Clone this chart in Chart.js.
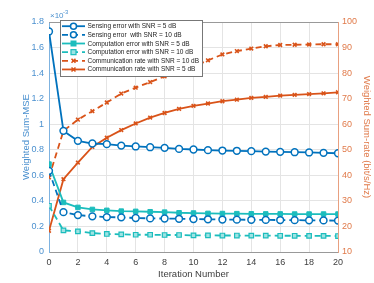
<!DOCTYPE html>
<html>
<head>
<meta charset="utf-8">
<script src="https://cdn.jsdelivr.net/npm/chart.js@4.4.0/dist/chart.umd.min.js"></script>
<style>
  html, body { margin: 0; padding: 0; background: #fff; }
  #wrap { width: 374px; height: 283px; }
</style>
</head>
<body>
<div id="wrap"><canvas id="chart" width="374" height="283"></canvas></div>
<script>
const iterations = [0,1,2,3,4,5,6,7,8,9,10,11,12,13,14,15,16,17,18,19,20];

// Weighted Sum-MSE (x 1e-3)
const sensing5 = [1.726,0.948,0.870,0.849,0.844,0.833,0.826,0.820,0.815,0.807,0.802,0.797,0.794,0.792,0.789,0.786,0.784,0.781,0.779,0.776,0.773];
const sensing10 = [0.635,0.312,0.289,0.279,0.273,0.271,0.266,0.263,0.262,0.260,0.258,0.256,0.254,0.253,0.252,0.251,0.250,0.249,0.248,0.247,0.246];
const comp5 = [0.688,0.388,0.349,0.333,0.326,0.320,0.318,0.315,0.312,0.307,0.305,0.302,0.301,0.300,0.299,0.298,0.298,0.297,0.297,0.297,0.297];
const comp10 = [0.362,0.169,0.161,0.148,0.141,0.138,0.135,0.135,0.133,0.133,0.130,0.130,0.129,0.129,0.128,0.128,0.127,0.127,0.126,0.126,0.125];

// Weighted Sum-rate (bit/s/Hz)
const rate10 = [39.2,57.4,61.8,65.1,68.5,72.0,74.3,76.5,78.7,80.8,82.6,85.0,87.3,88.6,89.6,90.5,91.0,91.1,91.2,91.3,91.3];
const rate5 = [18.3,38.5,45.0,51.1,54.7,57.7,60.3,62.6,64.4,66.0,67.2,68.1,69.0,69.6,70.3,70.7,71.2,71.5,71.8,72.1,72.5];

const labels = [
  "Sensing error with SNR = 5 dB",
  "Sensing error  with SNR = 10 dB",
  "Computation error with SNR = 5 dB",
  "Computation error with SNR = 10 dB",
  "Communication rate with SNR = 10 dB",
  "Communication rate with SNR = 5 dB"
];

const blue = "#0072BD";
const cyan = "#1CBDBD";
const orange = "#D95319";
const FONT = "'Liberation Sans', Arial, Helvetica, sans-serif";

function pts(arr) { return arr.map((v, i) => ({ x: iterations[i], y: v })); }

const datasets = [
  { label: labels[0], data: pts(sensing5), yAxisID: "y", borderColor: blue, backgroundColor: blue,
    pointStyle: "circle", pointRadius: 3.4, pointBackgroundColor: "#fff", pointBorderColor: blue, pointBorderWidth: 1.5, borderWidth: 1.8, borderDash: [] },
  { label: labels[1], data: pts(sensing10), yAxisID: "y", borderColor: blue, backgroundColor: blue,
    pointStyle: "circle", pointRadius: 3.4, pointBackgroundColor: "#fff", pointBorderColor: blue, pointBorderWidth: 1.5, borderWidth: 1.8, borderDash: [6, 4] },
  { label: labels[2], data: pts(comp5), yAxisID: "y", borderColor: cyan, backgroundColor: cyan,
    pointStyle: "rect", pointRadius: 3.2, pointBackgroundColor: cyan, pointBorderColor: cyan, pointBorderWidth: 1, borderWidth: 1.8, borderDash: [] },
  { label: labels[3], data: pts(comp10), yAxisID: "y", borderColor: cyan, backgroundColor: cyan,
    pointStyle: "rect", pointRadius: 3.2, pointBackgroundColor: "#9fe3e3", pointBorderColor: cyan, pointBorderWidth: 1.2, borderWidth: 1.8, borderDash: [6, 4] },
  { label: labels[4], data: pts(rate10), yAxisID: "y1", borderColor: orange, backgroundColor: orange,
    pointStyle: "crossRot", pointRadius: 2.6, pointBorderColor: orange, pointBorderWidth: 1.6, borderWidth: 1.8, borderDash: [6, 4] },
  { label: labels[5], data: pts(rate5), yAxisID: "y1", borderColor: orange, backgroundColor: orange,
    pointStyle: "crossRot", pointRadius: 2.6, pointBorderColor: orange, pointBorderWidth: 1.6, borderWidth: 1.8, borderDash: [] }
];

// legend box, exponent label and top frame line
const overlay = {
  id: "overlay",
  afterDatasetsDraw(chart) {
    const ctx = chart.ctx;
    const a = chart.chartArea;
    ctx.save();
    // top frame
    ctx.strokeStyle = "#999";
    ctx.lineWidth = 1;
    ctx.beginPath();
    ctx.moveTo(a.left, a.top + 0.5);
    ctx.lineTo(a.right, a.top + 0.5);
    ctx.stroke();

    // exponent
    ctx.fillStyle = "#4a90cf";
    ctx.font = "8px " + FONT;
    ctx.textBaseline = "alphabetic";
    ctx.fillText("\u00d710", a.left + 1, a.top - 4);
    ctx.font = "6px " + FONT;
    ctx.fillText("-3", a.left + 14, a.top - 8);

    // legend
    const bx = 60, by = 20, bw = 142, bh = 56;
    ctx.fillStyle = "#fff";
    ctx.fillRect(bx, by, bw, bh);
    ctx.strokeStyle = "#777";
    ctx.lineWidth = 1;
    ctx.strokeRect(bx + 0.5, by + 0.5, bw, bh);
    chart.data.datasets.forEach((ds, i) => {
      const yy = by + 6.2 + i * 8.65;
      ctx.strokeStyle = ds.borderColor;
      ctx.lineWidth = ds.borderWidth;
      ctx.setLineDash(ds.borderDash);
      ctx.beginPath();
      ctx.moveTo(62, yy);
      ctx.lineTo(85, yy);
      ctx.stroke();
      ctx.setLineDash([]);
      const mx = 73.5;
      ctx.lineWidth = ds.pointBorderWidth;
      ctx.strokeStyle = ds.pointBorderColor;
      if (ds.pointStyle === "circle") {
        ctx.fillStyle = ds.pointBackgroundColor;
        ctx.beginPath();
        ctx.arc(mx, yy, 3, 0, Math.PI * 2);
        ctx.fill();
        ctx.stroke();
      } else if (ds.pointStyle === "rect") {
        ctx.fillStyle = ds.pointBackgroundColor;
        ctx.fillRect(mx - 2.5, yy - 2.5, 5, 5);
        ctx.strokeRect(mx - 2.5, yy - 2.5, 5, 5);
      } else {
        ctx.beginPath();
        ctx.moveTo(mx - 2, yy - 2); ctx.lineTo(mx + 2, yy + 2);
        ctx.moveTo(mx + 2, yy - 2); ctx.lineTo(mx - 2, yy + 2);
        ctx.stroke();
      }
      // squeeze text a bit so it fits the box like the original
      ctx.save();
      ctx.translate(87.5, yy);
      ctx.scale(0.88, 1);
      ctx.fillStyle = "#222";
      ctx.font = "7.4px " + FONT;
      ctx.textBaseline = "middle";
      ctx.fillText(ds.label, 0, 0);
      ctx.restore();
    });
    ctx.restore();
  }
};

new Chart(document.getElementById("chart"), {
  type: "line",
  data: { datasets: datasets },
  options: {
    responsive: false,
    animation: false,
    devicePixelRatio: 1,
    layout: { padding: { top: 22, left: 0, right: 0, bottom: 0 } },
    plugins: {
      legend: { display: false },
      tooltip: { enabled: false }
    },
    scales: {
      x: {
        type: "linear",
        min: 0,
        max: 20,
        ticks: { stepSize: 2, color: "#404040", font: { size: 9, family: FONT }, padding: 5 },
        grid: { color: "#e4e4e4", drawTicks: false },
        border: { color: "#999" },
        title: { display: true, text: "Iteration Number", color: "#404040", font: { size: 9.5, family: FONT }, padding: { top: 0, bottom: 3 } },
        afterFit(scale) { scale.height = 31; }
      },
      y: {
        position: "left",
        min: 0,
        max: 1.8,
        ticks: { stepSize: 0.2, color: "#4a90cf", font: { size: 9, family: FONT }, padding: 5,
          callback: (v) => Math.round(v * 10) / 10 },
        grid: { color: "#e4e4e4", drawTicks: false },
        border: { color: "#7fb3e0" },
        title: { display: true, text: "Weighted Sum-MSE", color: "#4a90cf", font: { size: 9.5, family: FONT }, padding: { top: 0, bottom: 0 } },
        afterFit(scale) { scale.width = 49; }
      },
      y1: {
        position: "right",
        min: 10,
        max: 100,
        ticks: { stepSize: 10, color: "#e07a4a", font: { size: 9, family: FONT }, padding: 4 },
        grid: { display: false, drawTicks: false },
        border: { color: "#e8a080" },
        title: { display: true, text: "Weighted Sum-rate (bit/s/Hz)", color: "#e07a4a", font: { size: 9.5, family: FONT }, padding: { top: 2, bottom: 0 } },
        afterFit(scale) { scale.width = 36; }
      }
    }
  },
  plugins: [overlay, {
    // shift the left axis title in next to its tick labels
    id: "leftTitle",
    beforeDraw(chart) {
      const s = chart.scales.y;
      s.options.title.padding = { top: 21 - s.left, bottom: 0 };
    }
  }]
});
</script>
</body>
</html>
